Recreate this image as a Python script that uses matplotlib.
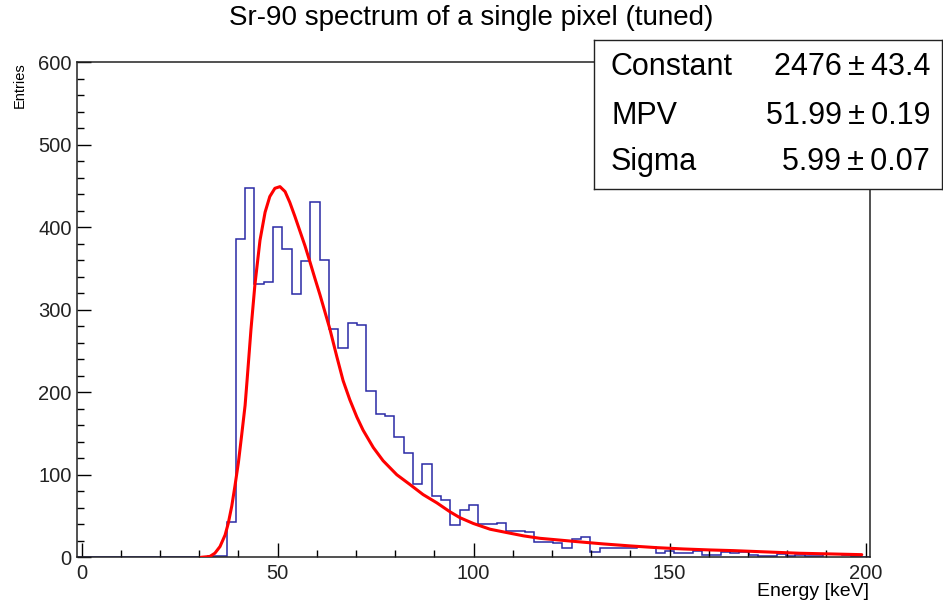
import matplotlib

matplotlib.use("Agg")
import matplotlib.pyplot as plt
import numpy as np
from matplotlib.ticker import MultipleLocator

plt.rcParams["font.family"] = ["Liberation Sans", "DejaVu Sans"]

# histogram: 85 bins spanning the frame
x_lo, x_hi = -1.1, 201.1
n_bins = 85
counts = [0] * 14 + [
    1, 2, 43, 386, 447, 331, 334, 400, 374, 319, 359, 430, 360, 277, 254,
    284, 281, 202, 173, 171, 146, 126, 89, 113, 74, 70, 39, 57, 63, 40,
    40, 41, 32, 32, 31, 18, 19, 17, 11, 22, 24, 7, 11, 11, 11, 11, 12, 12,
    5, 8, 5, 5, 8, 3, 3, 6, 5, 6, 3, 1, 1, 4, 2, 3, 1, 1, 4, 4, 3, 2, 0,
]

# Landau fit curve
fit_x = [30.5, 32.7, 34.0, 35.3, 36.6, 37.4, 38.3, 39.1, 40.0, 40.8, 41.7, 42.2,
         43.2, 44.2, 45.5, 46.8, 48.0, 49.3, 50.6, 51.9, 53.1, 54.4, 55.7, 57.0,
         58.3, 59.5, 60.8, 63.3, 65.1, 66.7, 68.4, 70.2, 71.8, 74.4, 76.9, 80.4,
         83.8, 87.1, 90.6, 94.0, 96.5, 99.9, 104.2, 108.4, 112.7, 116.9, 121.6,
         126.3, 133.1, 139.9, 146.7, 153.5, 160.3, 166.2, 174.7, 183.2, 191.7, 199.0]
fit_y = [0, 1, 5, 13, 27, 41, 62, 86, 115, 147, 184, 214,
         276, 330, 384, 418, 437, 447, 449, 443, 430, 413, 395, 377,
         357, 338, 318, 277, 243, 214, 191, 170, 154, 133, 117, 100,
         88, 76, 66, 55, 48, 41, 34, 30, 26, 23, 21,
         19, 16.2, 13.8, 11.7, 10.1, 8.9, 8.1, 6.5, 4.9, 4.0, 3.2]

stat_names = ["Constant", "MPV", "Sigma"]
stat_values = ["2476", "51.99", "5.99"]
stat_errors = ["43.4", "0.19", "0.07"]

W, H = 943, 606
fig = plt.figure(figsize=(W / 100, H / 100), dpi=100)
ax = fig.add_axes([77.3 / W, 1 - 557.3 / H, (870 - 77.3) / W, (557.3 - 62) / H])

edges = np.linspace(x_lo, x_hi, n_bins + 1)
ax.stairs(counts, edges, color="#2a2aa6", linewidth=1.1, baseline=0)
ax.plot(fit_x, fit_y, color="red", linewidth=2.2, solid_capstyle="round",
        solid_joinstyle="round", zorder=3)

ax.set_xlim(x_lo, x_hi)
ax.set_ylim(0, 600)
ax.xaxis.set_major_locator(MultipleLocator(50))
ax.xaxis.set_minor_locator(MultipleLocator(10))
ax.yaxis.set_major_locator(MultipleLocator(100))
ax.yaxis.set_minor_locator(MultipleLocator(20))
ax.tick_params(which="both", direction="in", top=False, right=False,
               labelsize=14.5, width=1, labelcolor="#222222")
ax.tick_params(which="major", length=10)
ax.tick_params(which="minor", length=5)
ax.tick_params(axis="x", pad=5)
ax.tick_params(axis="y", pad=4)
for s in ax.spines.values():
    s.set_linewidth(1.1)
    s.set_color("#222222")

fig.text(0.5, 1 - 18 / H, "Sr-90 spectrum of a single pixel (tuned)",
         ha="center", va="center", fontsize=20)
fig.text(869 / W, 1 - 592 / H, "Energy [keV]", ha="right", va="center", fontsize=14)
fig.text(20 / W, 1 - 62 / H, "Entries", ha="center", va="top", rotation=90, fontsize=10.5)

# stats box
bx0, bx1, by0, by1 = 594, 942, 40, 189
box = fig.add_axes([bx0 / W, 1 - by1 / H, (bx1 - bx0) / W, (by1 - by0) / H])
box.set_xticks([])
box.set_yticks([])
box.set_xlim(bx0, bx1)
box.set_ylim(by1, by0)
for s in box.spines.values():
    s.set_linewidth(1.0)
    s.set_color("#222222")
row_y = [67, 116, 162]
for y, name, val, err in zip(row_y, stat_names, stat_values, stat_errors):
    box.text(611, y, name, ha="left", va="center", fontsize=22)
    box.text(930, y, f"{val}\u2009\u00b1\u2009{err}", ha="right", va="center", fontsize=22)

fig.savefig("out.png", dpi=100)
